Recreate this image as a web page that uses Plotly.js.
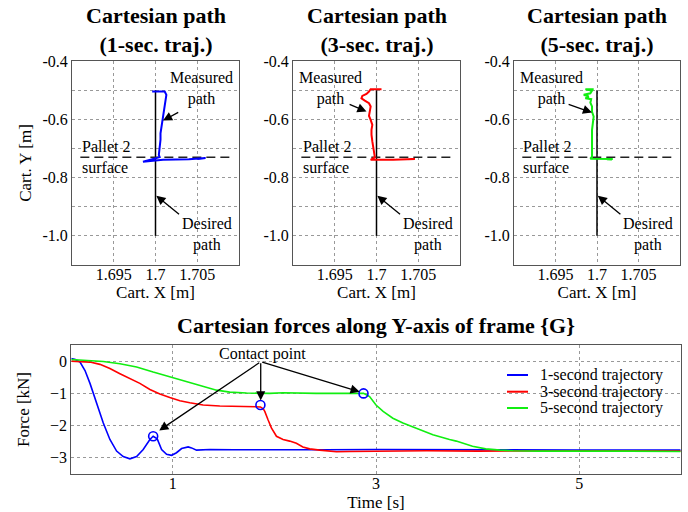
<!DOCTYPE html>
<html><head><meta charset="utf-8">
<script src="https://cdn.plot.ly/plotly-3.0.1.min.js"></script>
<style>html,body{margin:0;padding:0;background:#fff}#chart{width:688px;height:512px}</style>
</head><body><div id="chart"></div>
<script>
// ---------- data: Cartesian path panels ----------
const desiredX = [1.7, 1.7];
const desiredY = [-0.5, -1.0];
const palletX = [1.691, 1.709];
const palletY = [-0.73, -0.73];

const path1X = [1.6996, 1.7011, 1.7013, 1.7012, 1.7011, 1.7010, 1.7009, 1.7008, 1.7007, 1.7006, 1.7006, 1.7005, 1.7004, 1.7004, 1.7005, 1.6985, 1.7009, 1.7040, 1.7060, 1.7051];
const path1Y = [-0.505, -0.505, -0.516, -0.534, -0.551, -0.568, -0.591, -0.608, -0.625, -0.648, -0.670, -0.693, -0.711, -0.722, -0.730, -0.746, -0.739, -0.737, -0.733, -0.736];

const path2X = [1.7006, 1.6993, 1.6991, 1.6988, 1.6983, 1.6982, 1.6986, 1.6991, 1.6993, 1.6992, 1.6991, 1.6993, 1.6995, 1.6994, 1.6994, 1.6995, 1.6996, 1.6997, 1.6998, 1.6993, 1.7020, 1.7046, 1.7038];
const path2Y = [-0.497, -0.497, -0.505, -0.513, -0.520, -0.528, -0.536, -0.545, -0.556, -0.574, -0.588, -0.602, -0.619, -0.636, -0.653, -0.676, -0.699, -0.716, -0.730, -0.739, -0.739, -0.736, -0.737];

const path3X = [1.6996, 1.6986, 1.6994, 1.6992, 1.6984, 1.6990, 1.6986, 1.6993, 1.6992, 1.6994, 1.6994, 1.6996, 1.6995, 1.6994, 1.6994, 1.6994, 1.6994, 1.6994, 1.6992, 1.7019, 1.7012, 1.7018];
const path3Y = [-0.497, -0.497, -0.502, -0.511, -0.516, -0.522, -0.528, -0.531, -0.543, -0.556, -0.574, -0.591, -0.613, -0.636, -0.659, -0.682, -0.705, -0.728, -0.735, -0.736, -0.737, -0.739];

const pathYTicks = [-1.1, -1.0, -0.9, -0.8, -0.7, -0.6, -0.5, -0.4];
const pathYLabels = ['', '-1.0', '', '-0.8', '', '-0.6', '', '-0.4'];
const pathXTicks = [1.695, 1.7, 1.705];
const pathXLabels = ['1.695', '1.7', '1.705'];
const panelTitles = ['Cartesian path<br>(1-sec. traj.)', 'Cartesian path<br>(3-sec. traj.)', 'Cartesian path<br>(5-sec. traj.)'];

// ---------- data: forces ----------
const time1 = [0, 0.04, 0.086, 0.135, 0.184, 0.25, 0.315, 0.38, 0.446, 0.511, 0.577, 0.643, 0.708, 0.774, 0.806, 0.846, 0.889, 0.938, 0.987, 1.036, 1.086, 1.151, 1.184, 1.233, 1.364, 1.6, 2.0, 2.5, 3.0, 3.5, 4.0, 4.5, 5.0, 5.5, 6.0];
const force1 = [0.08, 0.05, -0.03, -0.29, -0.69, -1.31, -1.92, -2.43, -2.79, -2.96, -3.03, -2.96, -2.74, -2.43, -2.33, -2.41, -2.74, -2.89, -2.92, -2.84, -2.71, -2.66, -2.69, -2.76, -2.74, -2.75, -2.74, -2.75, -2.74, -2.75, -2.75, -2.76, -2.76, -2.76, -2.76];

const time3 = [0, 0.184, 0.282, 0.38, 0.479, 0.577, 0.675, 0.774, 0.872, 0.97, 1.069, 1.167, 1.298, 1.462, 1.626, 1.757, 1.823, 1.862, 1.89, 1.905, 1.937, 1.97, 2.02, 2.085, 2.15, 2.216, 2.28, 2.347, 2.445, 2.61, 2.74, 3.0, 3.5, 4.0, 4.5, 5.0, 5.5, 6.0];
const force3 = [0, -0.03, -0.10, -0.23, -0.39, -0.54, -0.69, -0.88, -1.02, -1.13, -1.23, -1.29, -1.36, -1.39, -1.41, -1.43, -1.43, -1.42, -1.48, -1.56, -1.82, -2.07, -2.33, -2.43, -2.48, -2.55, -2.66, -2.72, -2.76, -2.81, -2.80, -2.79, -2.78, -2.79, -2.78, -2.79, -2.78, -2.79];

const time5 = [0, 0.184, 0.315, 0.479, 0.643, 0.806, 0.97, 1.135, 1.298, 1.43, 1.56, 1.725, 1.954, 2.085, 2.41, 2.74, 2.877, 2.937, 3.0, 3.07, 3.166, 3.265, 3.396, 3.56, 3.724, 3.79, 3.95, 4.08, 4.22, 4.35, 4.6, 5.0, 5.5, 6.0];
const force5 = [0.05, 0.02, -0.01, -0.08, -0.18, -0.34, -0.49, -0.64, -0.80, -0.90, -0.96, -0.99, -1.0, -0.98, -1.0, -1.01, -1.0, -1.1, -1.36, -1.56, -1.77, -1.92, -2.07, -2.28, -2.43, -2.48, -2.64, -2.72, -2.76, -2.78, -2.79, -2.80, -2.79, -2.80];

const contactT = [0.806, 1.862, 2.877];
const contactF = [-2.33, -1.36, -1.0];

const timeTicks = [1, 3, 5];
const forceTicks = [0, -1, -2, -3];
const seriesNames = ['1-second trajectory', '3-second trajectory', '5-second trajectory'];
const seriesColors = ['#0000ff', '#ff0000', '#11ee11'];

// ---------- styling ----------
const SERIF = "'Liberation Serif', 'Times New Roman', serif";
const tickFont = {family: SERIF, size: 16, color: '#000'};
const titleFont = {family: SERIF, size: 17, color: '#000'};
const textFont = {family: SERIF, size: 16, color: '#000'};
const boldFont = {family: SERIF, size: 22, color: '#000', weight: 'bold'};
const gridCommon = {showgrid: true, gridcolor: '#999', griddash: 'dot', gridwidth: 1, zeroline: false,
  showline: true, mirror: true, linecolor: '#555', linewidth: 1, ticks: '', tickfont: tickFont};

const W = 688, H = 512;
const px = v => v / W, py = v => 1 - v / H;
const topX = [[72, 239], [293, 460], [514, 680]];
const topY = [py(265), py(61)];

const paths = [[path1X, path1Y], [path2X, path2Y], [path3X, path3Y]];
const traces = [];
const layout = {
  width: W, height: H, margin: {l: 0, r: 0, t: 0, b: 0},
  paper_bgcolor: '#fff', plot_bgcolor: '#fff', showlegend: false,
  annotations: [], shapes: []
};

paths.forEach((p, i) => {
  const n = i === 0 ? '' : String(i + 1);
  const xa = 'x' + n, ya = 'y' + n;
  traces.push({x: desiredX, y: desiredY, xaxis: xa, yaxis: ya, mode: 'lines', line: {color: '#000', width: 1.5}, hoverinfo: 'skip'});
  traces.push({x: palletX, y: palletY, xaxis: xa, yaxis: ya, mode: 'lines', line: {color: '#222', width: 1.5, dash: '9px,5px'}, hoverinfo: 'skip'});
  traces.push({x: p[0], y: p[1], xaxis: xa, yaxis: ya, mode: 'lines', line: {color: seriesColors[i], width: 2}});
  layout['xaxis' + n] = Object.assign({}, gridCommon, {
    domain: [px(topX[i][0]), px(topX[i][1])], range: [1.69, 1.71], anchor: ya,
    tickvals: pathXTicks, ticktext: pathXLabels, ticklabelstandoff: -5,
    title: {text: 'Cart. X [m]', font: titleFont, standoff: 3}
  });
  layout['yaxis' + n] = Object.assign({}, gridCommon, {
    domain: topY, range: [-1.1, -0.4], anchor: xa,
    tickvals: pathYTicks, ticktext: pathYLabels,
    title: i === 0 ? {text: 'Cart. Y [m]', font: titleFont, standoff: 6} : {text: ''}
  });
  const cx = (topX[i][0] + topX[i][1]) / 2;
  layout.annotations.push({xref: 'paper', yref: 'paper', x: px(cx), y: py(29.5), text: panelTitles[i],
    showarrow: false, font: boldFont, xanchor: 'center', yanchor: 'middle'});
  const mx = i === 0 ? 1.7055 : 1.6945;
  layout.annotations.push({xref: xa, yref: ya, x: mx, y: -0.496, text: 'Measured<br>path', showarrow: false,
    font: textFont, xanchor: 'center', yanchor: 'middle', align: 'center'});
  const mArrow = [[1.7029, -0.5736, 1.7009, -0.6045], [1.6966, -0.547, 1.6988, -0.5736], [1.6964, -0.547, 1.6994, -0.577]][i];
  layout.annotations.push({xref: xa, yref: ya, axref: xa, ayref: ya, x: mArrow[2], y: mArrow[3], ax: mArrow[0], ay: mArrow[1],
    text: '', showarrow: true, arrowhead: 2, arrowsize: 1.4, arrowwidth: 1.3, arrowcolor: '#000'});
  layout.annotations.push({xref: xa, yref: ya, x: 1.6909, y: -0.729, text: 'Pallet 2<br>surface', showarrow: false,
    font: textFont, xanchor: 'left', yanchor: 'middle', align: 'left'});
  layout.annotations.push({xref: xa, yref: ya, x: 1.7062, y: -0.994, text: 'Desired<br>path', showarrow: false,
    font: textFont, xanchor: 'center', yanchor: 'middle', align: 'center'});
  layout.annotations.push({xref: xa, yref: ya, axref: xa, ayref: ya, x: 1.7001, y: -0.862, ax: 1.703, ay: -0.93,
    text: '', showarrow: true, arrowhead: 2, arrowsize: 1.4, arrowwidth: 1.3, arrowcolor: '#000'});
});

// ---------- force panel ----------
[[time1, force1], [time3, force3], [time5, force5]].forEach((s, i) => {
  traces.push({x: s[0], y: s[1], xaxis: 'x4', yaxis: 'y4', mode: 'lines', name: seriesNames[i],
    line: {color: seriesColors[i], width: 1.6}});
});
traces.push({x: contactT, y: contactF, xaxis: 'x4', yaxis: 'y4', mode: 'markers',
  marker: {symbol: 'circle-open', size: 9, color: '#0000ff', line: {width: 1.6, color: '#0000ff'}}});

layout.xaxis4 = Object.assign({}, gridCommon, {
  domain: [px(71.3), px(680.7)], range: [0, 6], anchor: 'y4', tickvals: timeTicks, ticklabelstandoff: -5,
  title: {text: 'Time [s]', font: titleFont, standoff: 6}
});
layout.yaxis4 = Object.assign({}, gridCommon, {
  domain: [py(474), py(345)], range: [-3.5, 0.5], anchor: 'x4', tickvals: forceTicks,
  title: {text: 'Force [kN]', font: titleFont, standoff: 16}
});
layout.annotations.push({xref: 'paper', yref: 'paper', x: px(376), y: py(325.7),
  text: 'Cartesian forces along Y-axis of frame {G}', showarrow: false, font: boldFont, xanchor: 'center', yanchor: 'middle'});
layout.annotations.push({xref: 'x4', yref: 'y4', x: 1.885, y: 0.236, text: 'Contact point', showarrow: false,
  font: textFont, xanchor: 'center', yanchor: 'middle'});
[[0.866, -2.15], [1.865, -1.22], [2.839, -0.95]].forEach(h => {
  layout.annotations.push({xref: 'x4', yref: 'y4', axref: 'x4', ayref: 'y4', x: h[0], y: h[1], ax: 1.865, ay: -0.02,
    text: '', showarrow: true, arrowhead: 2, arrowsize: 1.4, arrowwidth: 1.3, arrowcolor: '#000'});
});
// legend (manual, tight rows like the original)
[375, 391.7, 408].forEach((yy, i) => {
  layout.shapes.push({type: 'line', xref: 'paper', yref: 'paper', x0: px(507), x1: px(528), y0: py(yy), y1: py(yy),
    line: {color: seriesColors[i], width: 2}});
  layout.annotations.push({xref: 'paper', yref: 'paper', x: px(538), y: py(yy), text: seriesNames[i],
    showarrow: false, font: textFont, xanchor: 'left', yanchor: 'middle'});
});

Plotly.newPlot('chart', traces, layout, {staticPlot: true, displayModeBar: false});
</script></body></html>
